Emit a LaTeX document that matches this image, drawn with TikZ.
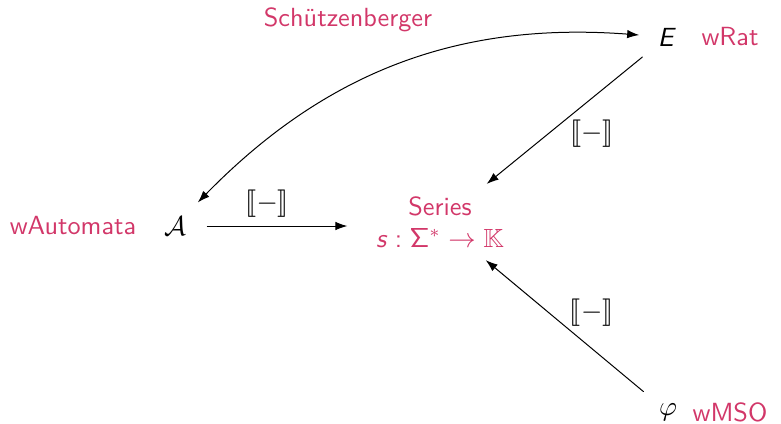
\documentclass[tikz,border=0pt]{standalone}
\usepackage{amssymb}
\usepackage{stmaryrd}
\usetikzlibrary{positioning, arrows.meta}

\definecolor{rosered}{RGB}{210,55,105}
\newcommand{\sfit}[1]{\textsf{\textit{#1}}}
\newcommand{\sem}{$\llbracket - \rrbracket$}

\tikzset{
  lbl/.style={text=rosered},
  every node/.style={font=\fontsize{10.5pt}{12.6pt}\selectfont\sffamily}
}

\begin{document}
\begin{tikzpicture}[>={Latex[length=4.8pt, width=3.4pt]}, x=0.4pt, y=-0.4pt, line cap=round, line join=round]
  \useasboundingbox (0, 0) rectangle (781, 423);

  % Objects
  \node (A) at (175, 226) {$\mathcal{A}$};
  \node (E) at (667, 37) {\sfit{E}};
  \node (phi) at (668, 412) {$\varphi$};
  \node[lbl, align=center] (S) at (440, 222)
    {Series\\ \sfit{s}\;:\;$\mathsf{\Sigma}^* \to \mathbb{K}$};

  % Names of the formalisms
  \node[lbl] (wA) at (73, 226) {wAutomata};
  \node[lbl] (wRat) at (730, 37) {wRat};
  \node[lbl] (wMSO) at (730, 412) {wMSO};

  % Semantics
  \draw[->, shorten <=5pt, shorten >=8pt] (A) -- (A -| S.west)
    node[pos=0.42, above] {\sem};
  \draw[->, shorten <=3.5pt, shorten >=2.5pt] (E) -- (S)
    node[pos=0.6, right=5pt] {\sem};
  \draw[->, shorten <=3.5pt, shorten >=2.5pt] (phi) -- (S)
    node[pos=0.6, right=5pt] {\sem};

  % Equivalence
  \draw[<->, shorten <=3pt, shorten >=4pt] (A) to[bend left=25] (E);
  \node[lbl] (schutz) at (348, 20) {Schützenberger};
\end{tikzpicture}
\end{document}
